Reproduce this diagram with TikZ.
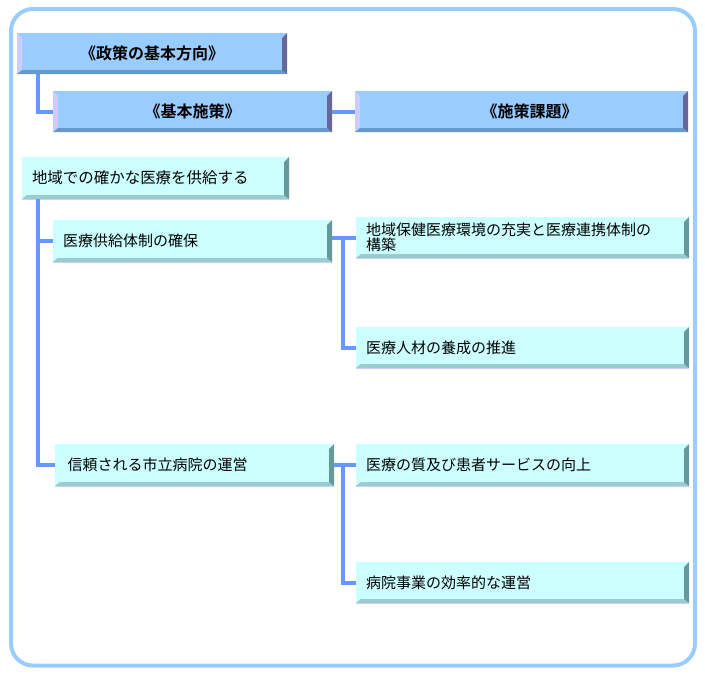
\documentclass[tikz,border=0pt]{standalone}
\usepackage{fontspec}
\setmainfont{Noto Sans CJK JP}[BoldFont={Noto Sans CJK JP Bold}]

\definecolor{frameblue}{HTML}{99CCFF}
\definecolor{headfill}{HTML}{99CCFF}
\definecolor{headlight}{HTML}{CCCCFF}
\definecolor{headbottom}{HTML}{6699CC}
\definecolor{headright}{HTML}{666699}
\definecolor{itemfill}{HTML}{CCFFFF}
\definecolor{itembottom}{HTML}{99CCCC}
\definecolor{itemright}{HTML}{669999}
\definecolor{linkblue}{HTML}{6699FF}

\def\px{*0.75pt}

% bevel strips round a box: node, left, bottom, right
\newcommand\bevel[4]{%
  \fill[#2] (#1.north west) -- ([shift={(3.75pt,-3.75pt)}]#1.north west)
    -- ([shift={(3.75pt,3pt)}]#1.south west) -- (#1.south west) -- cycle;
  \fill[#3] (#1.south west) -- ([shift={(3.75pt,3pt)}]#1.south west)
    -- ([shift={(-3.75pt,3pt)}]#1.south east) -- (#1.south east) -- cycle;
  \fill[#4] (#1.north east) -- ([shift={(-3.75pt,-3.75pt)}]#1.north east)
    -- ([shift={(-3.75pt,3pt)}]#1.south east) -- (#1.south east) -- cycle;
}
\newcommand\headbevel[1]{\bevel{#1}{headlight}{headbottom}{headright}}
\newcommand\itembevel[1]{\bevel{#1}{itemfill}{itembottom}{itemright}
  \draw[headlight, line width=0.75pt] ([yshift=-0.4pt]#1.south west) -- ([yshift=-0.4pt]#1.south east);}

\tikzset{
  headbox/.style={fill=headfill, inner sep=0pt, outer sep=0pt, anchor=north west,
    font=\bfseries\fontsize{12}{12}\selectfont},
  itembox/.style={fill=itemfill, inner xsep=10\px, inner ysep=0pt, outer sep=0pt,
    anchor=north west, align=left, font=\fontsize{11.25}{11.5}\selectfont},
  link/.style={linkblue, line width=3pt}
}

\begin{document}
\begin{tikzpicture}[x=0.75pt,y=-0.75pt]
\useasboundingbox (0,0) rectangle (705,682);

\draw[frameblue, line width=3pt, rounded corners=16.5pt] (11,9) rectangle (695,665.5);

% headings
\node[headbox, minimum width=270\px, minimum height=41\px] (dir) at (17,33) {《政策の基本方向》};
\node[headbox, minimum width=279\px, minimum height=41\px] (pol) at (53,91) {《基本施策》};
\node[headbox, minimum width=333\px, minimum height=41\px] (task) at (355,91) {\hspace*{12pt}《施策課題》};
\headbevel{dir}
\headbevel{pol}
\headbevel{task}

\draw[link] ([xshift=21\px]dir.south west) |- (pol.west);
\draw[link] (pol.east) -- (task.west);

% items
\node[itembox, text width=247\px, minimum height=42\px, font=\fontsize{11.6}{12}\selectfont] (root) at (22,157) {地域での確かな医療を供給する};
\node[itembox, text width=259\px, minimum height=42\px] (pol1) at (53,220) {医療供給体制の確保};
\node[itembox, text width=259\px, minimum height=42\px] (pol2) at (55,444) {\hspace*{2pt}信頼される市立病院の運営};
\node[itembox, text width=313\px, minimum height=41\px] (task1) at (356,217) {地域保健医療環境の充実と医療連携体制の\\構築};
\node[itembox, text width=313\px, minimum height=41\px] (task2) at (356,327) {医療人材の養成の推進};
\node[itembox, text width=313\px, minimum height=42\px] (task3) at (356,444) {医療の質及び患者サービスの向上};
\node[itembox, text width=313\px, minimum height=41\px] (task4) at (356,562) {病院事業の効率的な運営};
\itembevel{root}
\itembevel{pol1}
\itembevel{pol2}
\itembevel{task1}
\itembevel{task2}
\itembevel{task3}
\itembevel{task4}

\draw[link] ([xshift=16\px]root.south west) |- (pol1.west);
\draw[link] ([xshift=16\px]root.south west) |- (pol2.west);
\draw[link] (pol1.east |- task1.west) -- (task1.west);
\draw[link] ([xshift=-13\px]task1.west) |- (task2.west);
\draw[link] (pol2.east) -- (task3.west);
\draw[link] ([xshift=-13\px]task3.west) |- (task4.west);

\end{tikzpicture}
\end{document}
